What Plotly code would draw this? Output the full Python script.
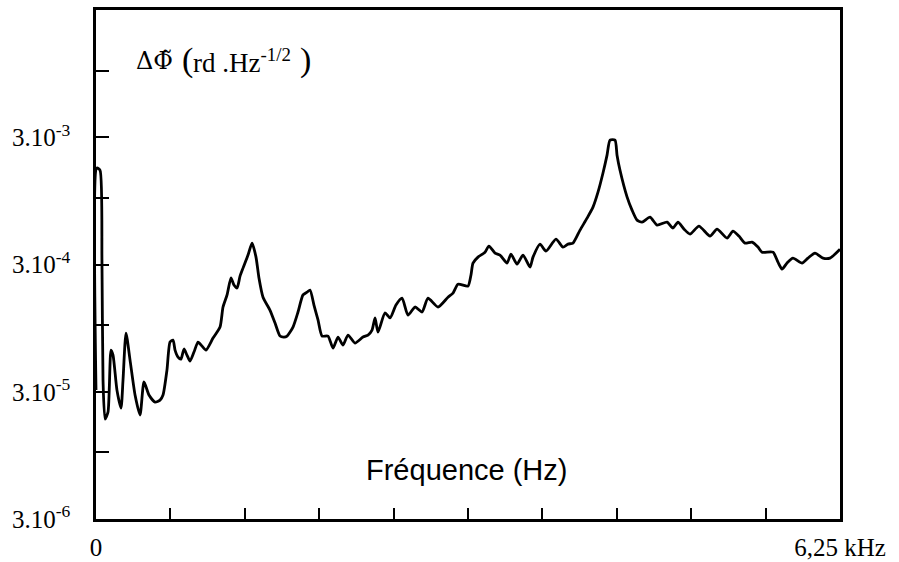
import math
import plotly.graph_objects as go

# Frequency (Hz)
freq_hz = [0, 8, 34, 50, 59, 76, 101, 126, 143, 176, 210, 227, 252, 286, 328, 370, 403, 445, 496, 538,
           563, 596, 622, 647, 664, 689, 714, 739, 764, 790, 823, 857, 890, 924, 983, 1042, 1067, 1101,
           1134, 1159, 1185, 1210, 1235, 1277, 1311, 1344, 1369, 1403, 1462, 1504, 1546, 1579, 1605,
           1655, 1697, 1739, 1773, 1798, 1831, 1865, 1899, 1949, 1991, 2033, 2075, 2117, 2176, 2243,
           2285, 2319, 2344, 2369, 2428, 2470, 2520, 2571, 2621, 2680, 2739, 2789, 2873, 2957, 2999,
           3041, 3125, 3150, 3167, 3209, 3268, 3301, 3352, 3394, 3453, 3486, 3537, 3587, 3646, 3671,
           3730, 3780, 3864, 3923, 3965, 4007, 4066, 4125, 4175, 4217, 4259, 4293, 4318, 4360, 4377,
           4402, 4461, 4503, 4545, 4587, 4654, 4713, 4797, 4847, 4889, 4940, 4990, 5065, 5158, 5217,
           5301, 5351, 5401, 5452, 5511, 5561, 5595, 5687, 5729, 5763, 5805, 5855, 5931, 5981, 6040,
           6107, 6166, 6250]

# Phase noise density (rd.Hz^-1/2)
phase_noise = [3.09e-5, 1.72e-3, 1.65e-3, 3.25e-4, 3.71e-5, 1.83e-5, 2.08e-5, 6.38e-5, 5.83e-5, 3.09e-5,
               2.23e-5, 3.71e-5, 8.68e-5, 5.32e-5, 2.83e-5, 1.97e-5, 3.58e-5, 2.83e-5, 2.49e-5, 2.58e-5,
               2.83e-5, 4.44e-5, 7.37e-5, 7.64e-5, 6.38e-5, 5.62e-5, 5.42e-5, 6.50e-5, 5.83e-5, 5.23e-5,
               6.15e-5, 7.37e-5, 6.86e-5, 6.38e-5, 7.92e-5, 9.67e-5, 1.39e-4, 1.73e-4, 2.35e-4, 2.07e-4,
               1.96e-4, 2.43e-4, 2.81e-4, 3.56e-4, 4.42e-4, 3.43e-4, 2.35e-4, 1.66e-4, 1.31e-4, 1.04e-4,
               8.22e-5, 8.07e-5, 8.22e-5, 9.67e-5, 1.27e-4, 1.73e-4, 1.82e-4, 1.89e-4, 1.44e-4, 1.10e-4,
               8.22e-5, 8.22e-5, 6.61e-5, 8.07e-5, 6.98e-5, 8.37e-5, 7.24e-5, 8.07e-5, 8.37e-5, 9.16e-5,
               1.14e-4, 8.83e-5, 1.25e-4, 1.14e-4, 1.44e-4, 1.63e-4, 1.20e-4, 1.39e-4, 1.27e-4, 1.63e-4,
               1.39e-4, 1.66e-4, 1.79e-4, 2.10e-4, 2.03e-4, 2.48e-4, 3.08e-4, 3.43e-4, 3.75e-4, 4.19e-4,
               3.69e-4, 3.56e-4, 3.08e-4, 3.62e-4, 3.02e-4, 3.56e-4, 2.86e-4, 3.43e-4, 4.34e-4, 3.82e-4,
               4.75e-4, 4.11e-4, 4.34e-4, 4.42e-4, 5.59e-4, 6.94e-4, 8.47e-4, 1.11e-3, 1.57e-3, 2.17e-3,
               2.85e-3, 2.85e-3, 2.17e-3, 1.65e-3, 1.02e-3, 8.03e-4, 6.70e-4, 6.46e-4, 7.07e-4, 6.12e-4,
               6.46e-4, 5.80e-4, 6.46e-4, 5.69e-4, 5.20e-4, 6.01e-4, 5.02e-4, 5.69e-4, 4.84e-4, 5.49e-4,
               5.02e-4, 4.42e-4, 4.50e-4, 4.11e-4, 3.75e-4, 3.75e-4, 3.13e-4, 2.76e-4, 3.08e-4, 3.37e-4,
               3.08e-4, 3.37e-4, 3.69e-4, 3.37e-4, 3.37e-4, 3.96e-4]

assert len(freq_hz) == len(phase_noise)

y_tick_vals = [3e-6, 1e-5, 3e-5, 1e-4, 3e-4, 1e-3, 3e-3, 1e-2]
y_tick_text = ["3.10<sup>-6</sup>", "", "3.10<sup>-5</sup>", "", "3.10<sup>-4</sup>", "",
               "3.10<sup>-3</sup>", ""]
x_tick_vals = [0, 625, 1250, 1875, 2500, 3125, 3750, 4375, 5000, 5625, 6250]
x_tick_text = ["0", "", "", "", "", "", "", "", "", "", "6,25 kHz"]

x_title = "Fréquence (Hz)"
y_title_main = "\u0394\u03A6\u0303"
y_title_unit = "rd .Hz<sup>-1/2</sup>"

serif = "Liberation Serif, Times New Roman, serif"

L, R, T, B = 96, 59, 10, 43
W, H = 899, 562
plot_w, plot_h = W - L - R, H - T - B


def px(x):
    return (x - L) / plot_w


def py(y):
    return (H - B - y) / plot_h


fig = go.Figure()
fig.add_trace(go.Scatter(x=freq_hz, y=phase_noise, mode="lines",
                         line=dict(color="black", width=2.8, shape="spline", smoothing=0.6),
                         showlegend=False, hoverinfo="skip"))

fig.update_layout(
    width=W, height=H,
    margin=dict(l=L, r=R, t=T, b=B, autoexpand=False),
    paper_bgcolor="white", plot_bgcolor="white",
    xaxis=dict(range=[0, 6250], tickmode="array", tickvals=x_tick_vals, ticktext=x_tick_text,
               ticks="inside", ticklen=11, tickwidth=2, tickcolor="black",
               showline=True, linecolor="black", linewidth=2.5, mirror=True,
               showgrid=False, zeroline=False, ticklabelstandoff=4, automargin=False,
               tickfont=dict(family=serif, size=25, color="black")),
    yaxis=dict(type="log", range=[math.log10(3e-6), math.log10(3e-2)],
               tickmode="array", tickvals=y_tick_vals, ticktext=y_tick_text,
               ticks="inside", ticklen=13, tickwidth=2, tickcolor="black",
               showline=True, linecolor="black", linewidth=2.5, mirror=True,
               showgrid=False, zeroline=False, ticklabelstandoff=18, automargin=False,
               tickfont=dict(family=serif, size=25, color="black")),
    annotations=[
        dict(text=x_title, x=px(466), y=py(470), xref="paper", yref="paper", showarrow=False,
             xanchor="center", yanchor="middle",
             font=dict(family="Liberation Sans, Arial, sans-serif", size=29, color="black")),
        dict(text=y_title_main, x=px(134), y=py(61), xref="paper", yref="paper", showarrow=False,
             xanchor="left", yanchor="middle",
             font=dict(family="DejaVu Serif, serif", size=24, color="black")),
        dict(text="(", x=px(180), y=py(60), xref="paper",
             yref="paper", showarrow=False, xanchor="left", yanchor="middle",
             font=dict(family=serif, size=34, color="black")),
        dict(text=y_title_unit, x=px(191), y=py(61), xref="paper", yref="paper",
             showarrow=False, xanchor="left", yanchor="middle",
             font=dict(family=serif, size=27, color="black")),
        dict(text=")", x=px(298), y=py(60), xref="paper", yref="paper", showarrow=False,
             xanchor="left", yanchor="middle", font=dict(family=serif, size=34, color="black")),
    ],
)

fig.write_html("out.html")
